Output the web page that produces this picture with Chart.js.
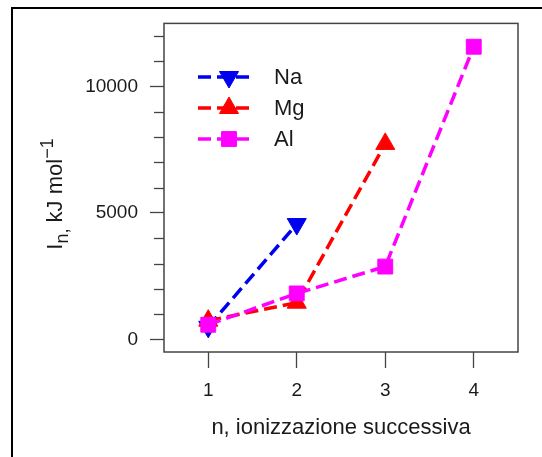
<!DOCTYPE html>
<html>
<head>
<meta charset="utf-8">
<title>Energie di ionizzazione</title>
<script src="https://cdn.jsdelivr.net/npm/chart.js@4.4.1/dist/chart.umd.min.js"></script>
<style>
  html, body { margin: 0; padding: 0; background: #fff; }
  #wrap { position: relative; width: 542px; height: 457px; overflow: hidden; }
  #frame { position: absolute; left: 11px; top: 7px; width: 600px; height: 500px; border: 2px solid #000; }
  canvas { position: absolute; left: 0; top: 0; }
</style>
</head>
<body>
<div id="wrap">
  <div id="frame"></div>
  <canvas id="chart" width="542" height="457"></canvas>
</div>
<script>
// n-th ionization energy, kJ/mol
const steps = [1, 2, 3, 4];
const naValues = [496, 4562];
const mgValues = [738, 1451, 7733];
const alValues = [578, 1817, 2880, 11577];
const seriesNames = ['Na', 'Mg', 'Al'];
const yTicks = [0, 1000, 2000, 3000, 4000, 5000, 6000, 7000, 8000, 9000, 10000, 11000, 12000];
const yLabels = [0, 5000, 10000];

const FONT = "'Liberation Sans', Arial, sans-serif";
const AXIS_COLOR = '#444';
const TEXT_COLOR = '#1a1a1a';

function toPoints(values) {
    return values.map((v, i) => ({ x: steps[i], y: v }));
}

// draws a marker the same way Chart.js does, used for the legend
function drawMarker(ctx, style, x, y, r, rotation, color) {
    ctx.save();
    ctx.fillStyle = color;
    ctx.strokeStyle = color;
    ctx.lineWidth = 1;
    ctx.setLineDash([]);
    ctx.beginPath();
    if (style === 'rect') {
        const s = Math.SQRT1_2 * r;
        ctx.rect(x - s, y - s, 2 * s, 2 * s);
    } else {
        let rad = rotation * Math.PI / 180;
        ctx.moveTo(x + Math.sin(rad) * r, y - Math.cos(rad) * r);
        rad += 2 * Math.PI / 3;
        ctx.lineTo(x + Math.sin(rad) * r, y - Math.cos(rad) * r);
        rad += 2 * Math.PI / 3;
        ctx.lineTo(x + Math.sin(rad) * r, y - Math.cos(rad) * r);
        ctx.closePath();
    }
    ctx.fill();
    ctx.stroke();
    ctx.restore();
}

const decorations = {
    id: 'decorations',
    afterDraw(chart) {
        const { ctx, chartArea, scales } = chart;
        ctx.save();

        // box around the plot
        ctx.strokeStyle = AXIS_COLOR;
        ctx.lineWidth = 1.5;
        ctx.strokeRect(chartArea.left, chartArea.top,
            chartArea.right - chartArea.left, chartArea.bottom - chartArea.top);

        // short minor ticks on the y axis
        ctx.lineWidth = 1.3;
        yTicks.filter(v => !yLabels.includes(v)).forEach(v => {
            const py = Math.round(scales.y.getPixelForValue(v)) + 0.5;
            ctx.beginPath();
            ctx.moveTo(chartArea.left, py);
            ctx.lineTo(chartArea.left - 10, py);
            ctx.stroke();
        });

        // y title: I_n, kJ mol^-1
        ctx.translate(62, 191);
        ctx.rotate(-Math.PI / 2);
        ctx.fillStyle = TEXT_COLOR;
        ctx.textBaseline = 'alphabetic';
        const big = '22px ' + FONT;
        const small = '18px ' + FONT;
        const parts = [
            { t: 'I', f: big, dy: 0 },
            { t: 'n,', f: small, dy: 6 },
            { t: ' kJ mol', f: big, dy: 0 },
            { t: '\u22121', f: small, dy: -9 }
        ];
        let total = 0;
        parts.forEach(p => { ctx.font = p.f; p.w = ctx.measureText(p.t).width; total += p.w; });
        let x = -total / 2 - 3;
        parts.forEach(p => {
            ctx.font = p.f;
            ctx.fillText(p.t, x, p.dy);
            x += p.w;
        });
        ctx.restore();

        // legend inside the plot
        ctx.save();
        chart.data.datasets.forEach((ds, i) => {
            const y = 77 + i * 31;
            ctx.strokeStyle = ds.borderColor;
            ctx.lineWidth = ds.borderWidth;
            ctx.setLineDash(ds.borderDash);
            ctx.beginPath();
            ctx.moveTo(198, y);
            ctx.lineTo(253, y);
            ctx.stroke();
            drawMarker(ctx, ds.pointStyle, 229, y, ds.pointRadius, ds.pointRotation || 0, ds.backgroundColor);
            ctx.fillStyle = TEXT_COLOR;
            ctx.font = '22px ' + FONT;
            ctx.textBaseline = 'middle';
            ctx.fillText(ds.label, 274, y + 1);
        });
        ctx.restore();
    }
};

function lineSeries(label, values, color, style, radius, rotation, order) {
    return {
        label: label,
        data: toPoints(values),
        borderColor: color,
        backgroundColor: color,
        borderWidth: 3.5,
        borderDash: [13, 6],
        pointStyle: style,
        pointRadius: radius,
        pointRotation: rotation,
        pointBorderWidth: 1,
        pointBackgroundColor: color,
        pointBorderColor: color,
        tension: 0,
        order: order
    };
}

new Chart(document.getElementById('chart'), {
    type: 'line',
    data: {
        datasets: [
            lineSeries(seriesNames[0], naValues, '#0000f0', 'triangle', 11, 180, 3),
            lineSeries(seriesNames[1], mgValues, '#ff0000', 'triangle', 11, 0, 2),
            lineSeries(seriesNames[2], alValues, '#ff00ff', 'rect', 10.5, 0, 1)
        ]
    },
    options: {
        responsive: false,
        animation: false,
        layout: { padding: { top: 23, right: 24, bottom: 0, left: 0 } },
        plugins: {
            legend: { display: false },
            tooltip: { enabled: false }
        },
        scales: {
            x: {
                type: 'linear',
                min: 0.5,
                max: 4.5,
                afterBuildTicks: scale => { scale.ticks = steps.map(v => ({ value: v })); },
                afterFit: scale => { scale.height = 105; },
                border: { display: false },
                grid: { drawOnChartArea: false, tickLength: 16, tickColor: AXIS_COLOR, tickWidth: 1.3 },
                ticks: { autoSkip: false, padding: 11, color: TEXT_COLOR, font: { family: FONT, size: 19 } },
                title: {
                    display: true,
                    text: 'n, ionizzazione successiva',
                    color: TEXT_COLOR,
                    font: { family: FONT, size: 22 },
                    padding: { top: 0, bottom: 16 }
                }
            },
            y: {
                type: 'linear',
                min: -500,
                max: 12500,
                afterBuildTicks: scale => { scale.ticks = yTicks.map(v => ({ value: v })); },
                afterFit: scale => { scale.width = 164; },
                border: { display: false },
                grid: {
                    drawOnChartArea: false,
                    tickLength: 14,
                    tickWidth: 1.3,
                    tickColor: c => yLabels.includes(c.tick.value) ? AXIS_COLOR : 'rgba(0,0,0,0)'
                },
                ticks: {
                    autoSkip: false,
                    padding: 12,
                    color: TEXT_COLOR,
                    font: { family: FONT, size: 19 },
                    callback: value => yLabels.includes(value) ? String(value) : ''
                }
            }
        }
    },
    plugins: [decorations]
});
</script>
</body>
</html>
